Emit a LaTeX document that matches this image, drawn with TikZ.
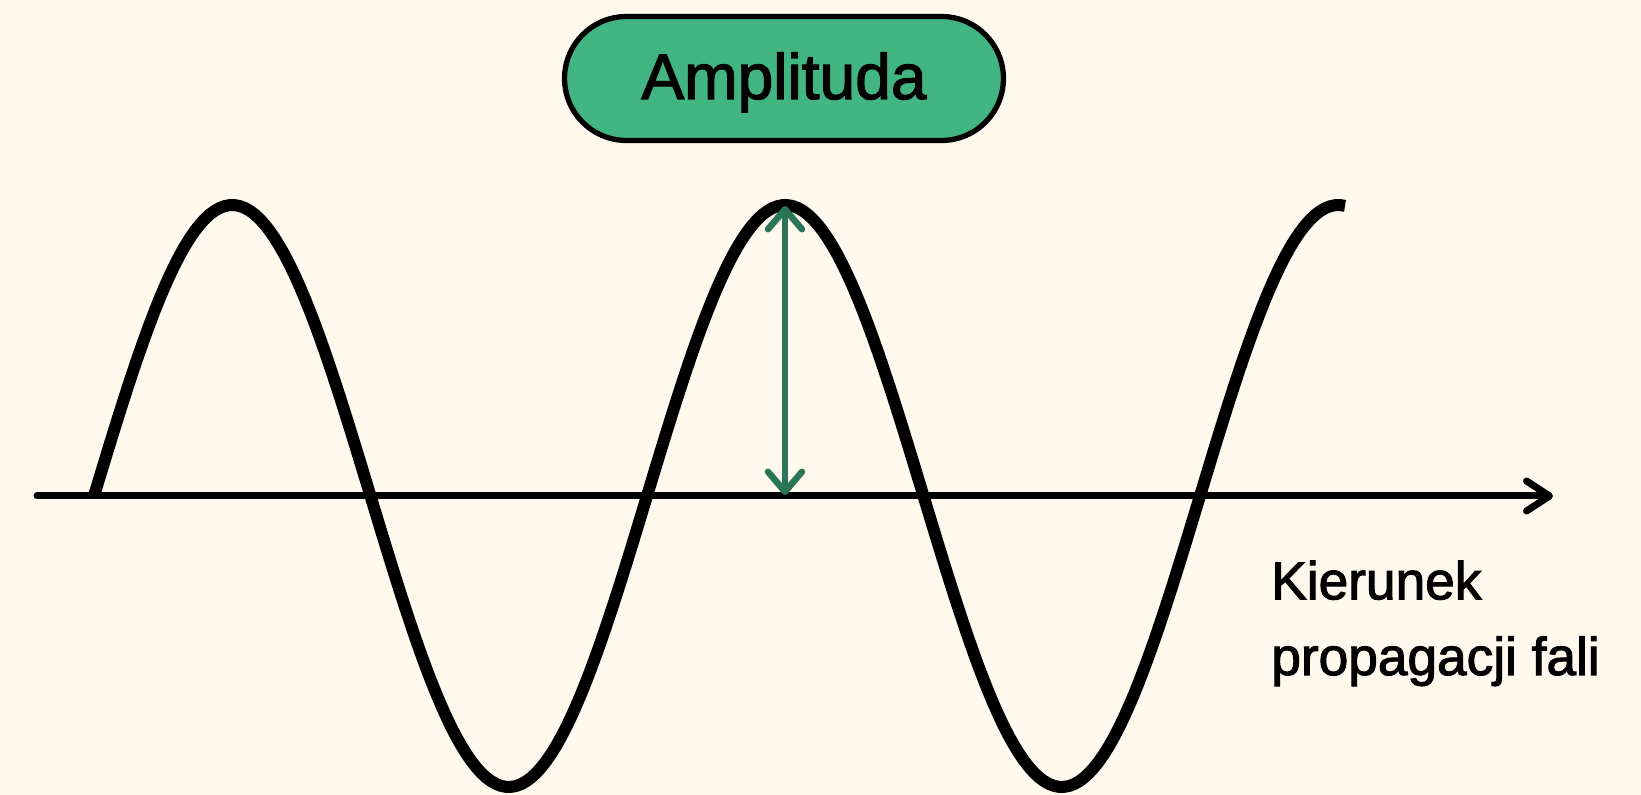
\documentclass[tikz,border=0pt]{standalone}
\usepackage{fontspec}
\setmainfont{Liberation Sans}[FakeBold=2]
\usetikzlibrary{arrows.meta}
\definecolor{tlo}{HTML}{FFF8EC}
\definecolor{zielony}{HTML}{42B682}
\definecolor{ciemnyzielony}{HTML}{2A7555}
\tikzset{
	wave/.style={line width=0.24cm},
	axisline/.style={line width=0.14cm, line cap=round, -{Straight Barb[length=0.46cm,width=0.6cm,round]}},
	amparrow/.style={ciemnyzielony, line width=0.13cm, line cap=round, {Straight Barb[length=0.4cm,width=0.68cm,round]}-{Straight Barb[length=0.4cm,width=0.68cm,round]}},
	pill/.style={draw, line width=0.106cm, fill=zielony, rounded corners=1.24cm, minimum width=8.78cm, minimum height=2.48cm, text height=0.93cm, text depth=0.11cm, font=\fontsize{36.5}{44}\selectfont}
}
\begin{document}
\begin{tikzpicture}[x=0.02cm, y=0.02cm]
			\fill[tlo] (0,0) rectangle (1641,795);
			\useasboundingbox (0,0) rectangle (1641,795);
			\coordinate (axstart) at (37,299);
			\coordinate (axend) at (1553,299);
			\coordinate (peak) at (785,589);
			\coordinate (foot) at (785,300);
			\draw[axisline] (axstart) -- (axend);
			\draw[wave] plot[domain=94:1345, samples=250] (\x, {299+291*sin(0.651*(\x-94))});
			\draw[amparrow] (peak) -- (foot);
			\node[pill] (amplituda) at (784,716.5) {Amplituda};
			\node[anchor=base west, inner sep=0, align=left, font=\fontsize{30.3}{43.1}\selectfont] (kierunek) at (1271,120) {Kierunek\\propagacji fali};
		\end{tikzpicture}
\end{document}
